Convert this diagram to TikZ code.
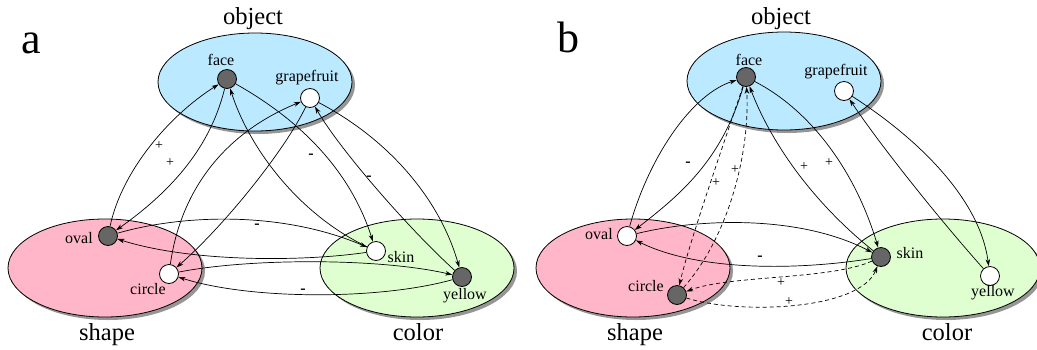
\documentclass[tikz,border=0pt]{standalone}
\usepackage{fontspec}
\setmainfont{Liberation Serif}
\newfontfamily\tnr{Liberation Serif}
\usetikzlibrary{arrows.meta,shapes.geometric,shadows}
\definecolor{objblue}{RGB}{187,233,255}
\definecolor{shapepink}{RGB}{255,182,200}
\definecolor{colgreen}{RGB}{224,255,208}
\definecolor{dotdark}{RGB}{102,102,102}
\definecolor{shadowgray}{RGB}{150,150,150}
\begin{document}
\begin{tikzpicture}[x=1pt,y=-1pt,
  region/.style={ellipse,draw,line width=0.8pt,minimum width=194pt,minimum height=98pt,inner sep=0pt,
    drop shadow={shadow xshift=3pt,shadow yshift=-3pt,fill=shadowgray,opacity=1}},
  darkdot/.style={circle,draw,line width=0.8pt,fill=dotdark,minimum size=19pt,inner sep=0pt},
  whitedot/.style={circle,draw,line width=0.8pt,fill=white,minimum size=19pt,inner sep=0pt},
  lbl/.style={font=\tnr\fontsize{16}{18}\selectfont,anchor=base,inner sep=0pt},
  rlbl/.style={font=\tnr\fontsize{24.5}{28}\selectfont,anchor=base,inner sep=0pt},
  panel/.style={font=\tnr\fontsize{44}{48}\selectfont,anchor=base,inner sep=0pt},
  sign/.style={font=\tnr\fontsize{14}{16}\selectfont,inner sep=0pt},
  minus/.style={font=\tnr\bfseries\fontsize{16}{18}\selectfont,inner sep=0pt},
  arr/.style={line width=0.7pt,-{Stealth[length=7pt,width=4.5pt,inset=2pt]}},
  darr/.style={arr,dashed,dash pattern=on 4pt off 3pt}
]
\useasboundingbox (0,0) rectangle (1037,349);

% ---------------- panel a ----------------
\node[region,fill=objblue] (aobj) at (255,82) {};
\node[region,fill=shapepink] (ashape) at (105,268) {};
\node[region,fill=colgreen] (acolor) at (417,268) {};
\node[panel] (alet) at (31,53) {a};
\node[rlbl] (aobjl) at (253,24) {object};
\node[rlbl] (ashapel) at (107,340) {shape};
\node[rlbl] (acolorl) at (418,340) {color};

\node[darkdot] (aface) at (227,79) {};
\node[whitedot] (agrape) at (310,98) {};
\node[darkdot] (aoval) at (108,236) {};
\node[whitedot] (acircle) at (169,274) {};
\node[whitedot] (askin) at (376,251) {};
\node[darkdot] (ayellow) at (462,277) {};

\node[lbl] (afacel) at (221,65) {face};
\node[lbl] (agrapel) at (307,81) {grapefruit};
\node[lbl] (aovall) at (79,243) {oval};
\node[lbl] (acirclel) at (148,294) {circle};
\node[lbl] (askinl) at (401,262) {skin};
\node[lbl] (ayellowl) at (465,299) {yellow};

\draw[arr] (aoval) .. controls (122,170) and (170,115) .. (aface);
\draw[arr] (aface) .. controls (212,140) and (180,185) .. (aoval);
\draw[arr] (askin) .. controls (300,215) and (250,150) .. (aface);
\draw[arr] (aface) .. controls (300,120) and (350,170) .. (askin);
\draw[arr] (acircle) .. controls (180,195) and (220,135) .. (agrape);
\draw[arr] (agrape) .. controls (285,150) and (225,225) .. (acircle);
\draw[arr] (agrape) .. controls (390,140) and (440,200) .. (ayellow);
\draw[arr] (ayellow) .. controls (410,230) and (340,150) .. (agrape);
\draw[arr] (aoval) .. controls (180,215) and (280,210) .. (askin);
\draw[arr] (askin) .. controls (300,262) and (190,262) .. (aoval);
\draw[arr] (acircle) .. controls (250,258) and (380,258) .. (ayellow);
\draw[arr] (ayellow) .. controls (380,300) and (250,300) .. (acircle);

\node[sign] (as1) at (159,146) {+};
\node[sign] (as2) at (170,163) {+};
\node[minus] (as3) at (311,156) {-};
\node[minus] (as4) at (369,178) {-};
\node[minus] (as5) at (257,226) {-};
\node[minus] (as6) at (303,291) {-};

% ---------------- panel b ----------------
\node[region,fill=objblue] (bobj) at (784,81) {};
\node[region,fill=shapepink] (bshape) at (633,268) {};
\node[region,fill=colgreen] (bcolor) at (943,268) {};
\node[panel] (blet) at (568,52) {b};
\node[rlbl] (bobjl) at (781,24) {object};
\node[rlbl] (bshapel) at (635,340) {shape};
\node[rlbl] (bcolorl) at (947,340) {color};

\node[darkdot] (bface) at (746,77) {};
\node[whitedot] (bgrape) at (844,91) {};
\node[whitedot] (boval) at (627,236) {};
\node[darkdot] (bcircle) at (677,295) {};
\node[darkdot] (bskin) at (881,257) {};
\node[whitedot] (byellow) at (990,276) {};

\node[lbl] (bfacel) at (749,65) {face};
\node[lbl] (bgrapel) at (836,75) {grapefruit};
\node[lbl] (bovall) at (599,239) {oval};
\node[lbl] (bcirclel) at (646,291) {circle};
\node[lbl] (bskinl) at (910,258) {skin};
\node[lbl] (byellowl) at (993,296) {yellow};

\draw[arr] (boval) .. controls (648,160) and (690,95) .. (bface);
\draw[arr] (bface) .. controls (722,160) and (680,195) .. (boval);
\draw[arr] (bface) .. controls (810,110) and (855,170) .. (bskin);
\draw[arr] (bskin) .. controls (810,200) and (770,140) .. (bface);
\draw[darr] (bface) .. controls (725,140) and (690,240) .. (bcircle);
\draw[darr] (bcircle) .. controls (730,235) and (750,150) .. (bface);
\draw[arr] (boval) .. controls (700,218) and (800,215) .. (bskin);
\draw[arr] (bskin) .. controls (800,270) and (700,272) .. (boval);
\draw[darr] (bskin) .. controls (830,280) and (730,275) .. (bcircle);
\draw[darr] (bcircle) .. controls (740,315) and (860,310) .. (bskin);
\draw[arr] (bgrape) .. controls (920,140) and (980,200) .. (byellow);
\draw[arr] (byellow) .. controls (940,220) and (880,145) .. (bgrape);

\node[minus] (bs1) at (688,164) {-};
\node[sign] (bs2) at (716,183) {+};
\node[sign] (bs3) at (735,170) {+};
\node[sign] (bs4) at (804,167) {+};
\node[sign] (bs5) at (829,163) {+};
\node[minus] (bs6) at (760,258) {-};
\node[sign] (bs7) at (781,283) {+};
\node[sign] (bs8) at (789,302) {+};
\end{tikzpicture}
\end{document}
